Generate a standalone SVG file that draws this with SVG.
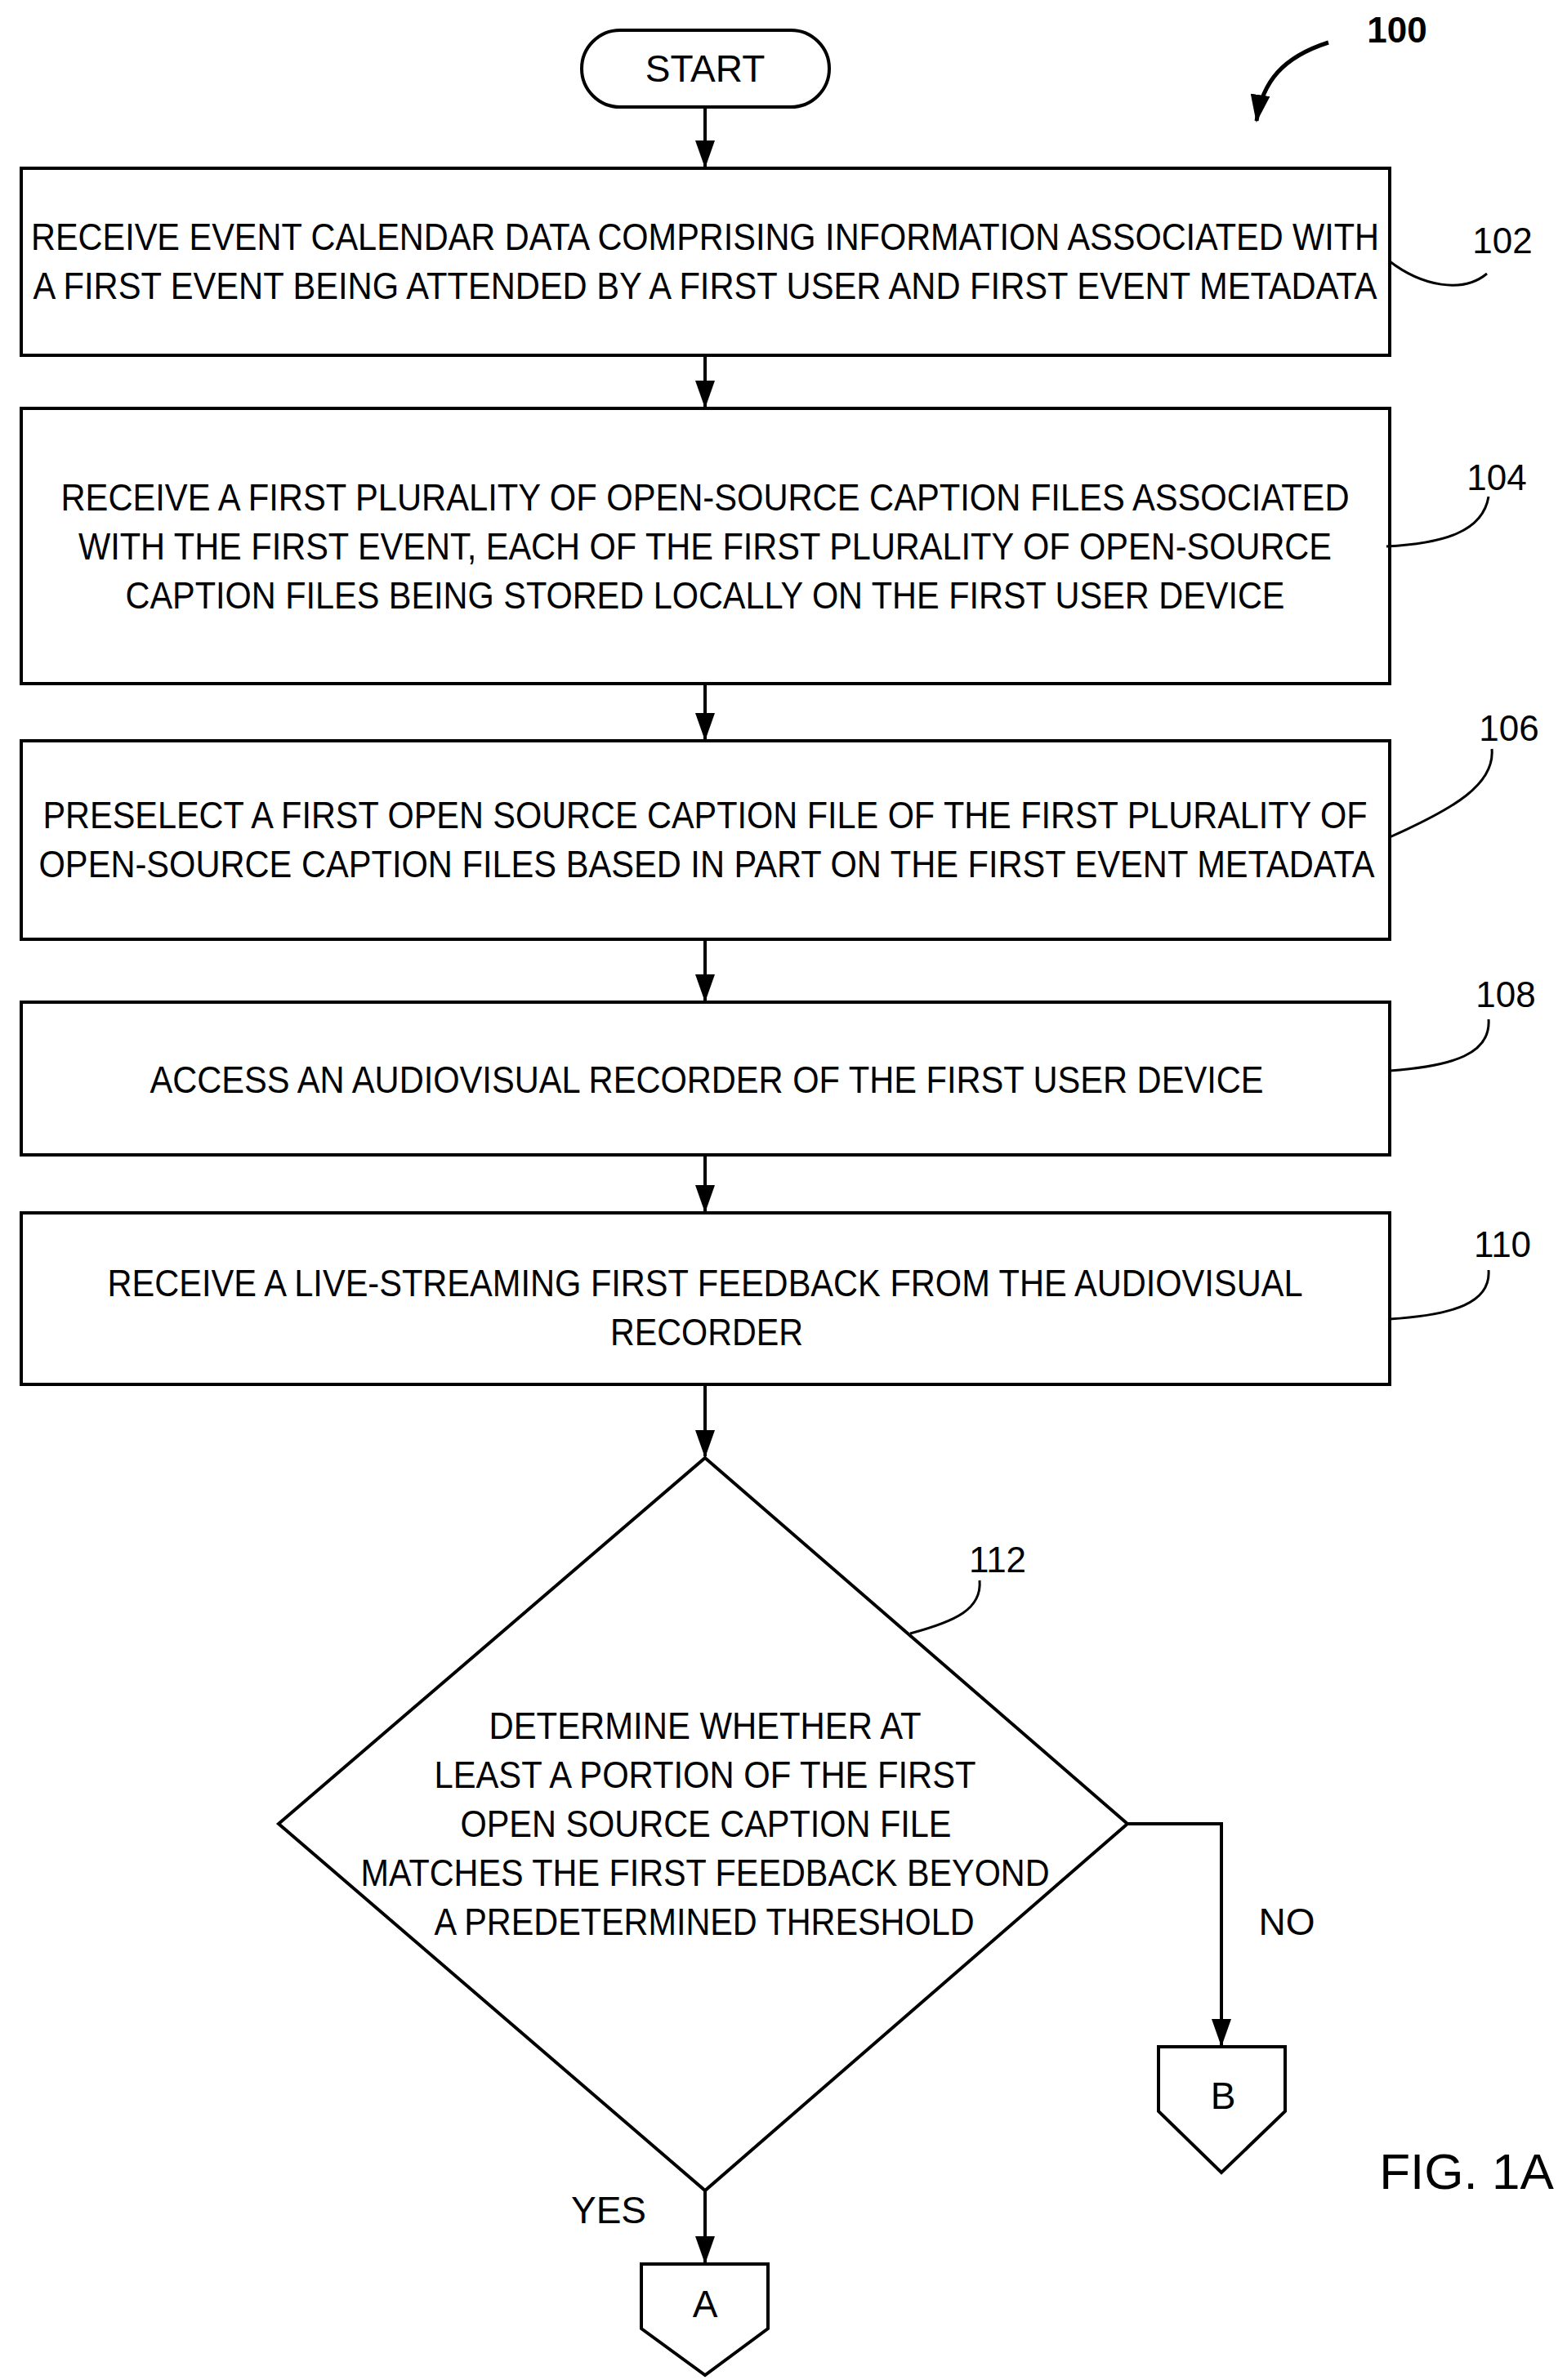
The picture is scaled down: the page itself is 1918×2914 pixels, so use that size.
<svg xmlns="http://www.w3.org/2000/svg" width="1918" height="2914" viewBox="0 0 1918 2914">
<defs>
<marker id="ah" markerWidth="34" markerHeight="24" refX="32" refY="12" orient="auto" markerUnits="userSpaceOnUse" viewBox="0 0 34 24"><path d="M0,0 L34,12 L0,24 Z" fill="#000"/></marker>
</defs>
<style>
.s{fill:#fff;stroke:#000;stroke-width:4}
.t{font-family:"Liberation Sans",Arial,sans-serif;font-size:46px;fill:#000;text-anchor:middle}
.r{font-family:"Liberation Sans",Arial,sans-serif;font-size:44px;fill:#000;text-anchor:middle}
.l{fill:none;stroke:#000;stroke-width:3}
.c{fill:none;stroke:#000;stroke-width:4}
</style>
<rect width="1918" height="2914" fill="#fff"/>
<g id="start"><rect class="s" x="712" y="37" width="303" height="94" rx="47"/><text class="t" x="863" y="100">START</text></g>
<g id="n102"><rect class="s" x="26" y="206" width="1675" height="229"/>
<text class="t" x="863" y="306" textLength="1650" lengthAdjust="spacingAndGlyphs">RECEIVE EVENT CALENDAR DATA COMPRISING INFORMATION ASSOCIATED WITH</text>
<text class="t" x="863" y="366" textLength="1645" lengthAdjust="spacingAndGlyphs">A FIRST EVENT BEING ATTENDED BY A FIRST USER AND FIRST EVENT METADATA</text></g>
<g id="n104"><rect class="s" x="26" y="500" width="1675" height="337"/>
<text class="t" x="863" y="625" textLength="1577" lengthAdjust="spacingAndGlyphs">RECEIVE A FIRST PLURALITY OF OPEN-SOURCE CAPTION FILES ASSOCIATED</text>
<text class="t" x="863" y="685" textLength="1534" lengthAdjust="spacingAndGlyphs">WITH THE FIRST EVENT, EACH OF THE FIRST PLURALITY OF OPEN-SOURCE</text>
<text class="t" x="863" y="745" textLength="1419" lengthAdjust="spacingAndGlyphs">CAPTION FILES BEING STORED LOCALLY ON THE FIRST USER DEVICE</text></g>
<g id="n106"><rect class="s" x="26" y="907" width="1675" height="243"/>
<text class="t" x="863" y="1014" textLength="1621" lengthAdjust="spacingAndGlyphs">PRESELECT A FIRST OPEN SOURCE CAPTION FILE OF THE FIRST PLURALITY OF</text>
<text class="t" x="865" y="1074" textLength="1635" lengthAdjust="spacingAndGlyphs">OPEN-SOURCE CAPTION FILES BASED IN PART ON THE FIRST EVENT METADATA</text></g>
<g id="n108"><rect class="s" x="26" y="1227" width="1675" height="187"/>
<text class="t" x="865" y="1338" textLength="1363" lengthAdjust="spacingAndGlyphs">ACCESS AN AUDIOVISUAL RECORDER OF THE FIRST USER DEVICE</text></g>
<g id="n110"><rect class="s" x="26" y="1485" width="1675" height="210"/>
<text class="t" x="863" y="1587" textLength="1463" lengthAdjust="spacingAndGlyphs">RECEIVE A LIVE-STREAMING FIRST FEEDBACK FROM THE AUDIOVISUAL</text>
<text class="t" x="865" y="1647" textLength="236" lengthAdjust="spacingAndGlyphs">RECORDER</text></g>
<g id="n112"><polygon class="s" points="863,1785 1380,2233 863,2682 341,2233"/>
<text class="t" x="863" y="2129" textLength="529" lengthAdjust="spacingAndGlyphs">DETERMINE WHETHER AT</text>
<text class="t" x="863" y="2189" textLength="663" lengthAdjust="spacingAndGlyphs">LEAST A PORTION OF THE FIRST</text>
<text class="t" x="864" y="2249" textLength="601" lengthAdjust="spacingAndGlyphs">OPEN SOURCE CAPTION FILE</text>
<text class="t" x="863" y="2309" textLength="843" lengthAdjust="spacingAndGlyphs">MATCHES THE FIRST FEEDBACK BEYOND</text>
<text class="t" x="862" y="2369" textLength="661" lengthAdjust="spacingAndGlyphs">A PREDETERMINED THRESHOLD</text></g>
<g id="nB"><polygon class="s" points="1418,2506 1573,2506 1573,2585 1495,2660 1418,2585"/><text class="t" x="1497" y="2582">B</text></g>
<g id="nA"><polygon class="s" points="785,2772 940,2772 940,2851 863,2908 785,2851"/><text class="t" x="863" y="2837">A</text></g>
<g id="connectors">
<path class="c" d="M863,131 V204" marker-end="url(#ah)"/>
<path class="c" d="M863,435 V498" marker-end="url(#ah)"/>
<path class="c" d="M863,837 V905" marker-end="url(#ah)"/>
<path class="c" d="M863,1150 V1225" marker-end="url(#ah)"/>
<path class="c" d="M863,1414 V1483" marker-end="url(#ah)"/>
<path class="c" d="M863,1695 V1783" marker-end="url(#ah)"/>
<path class="c" d="M1380,2233 H1495 V2504" marker-end="url(#ah)"/>
<path class="c" d="M863,2682 V2770" marker-end="url(#ah)"/>
<path class="l" d="M1701,320 C1740,350 1790,360 1820,335"/>
<path class="l" d="M1697,669 C1770,665 1815,650 1822,608"/>
<path class="l" d="M1701,1025 C1780,990 1830,960 1826,917"/>
<path class="l" d="M1701,1311 C1780,1305 1825,1290 1822,1248"/>
<path class="l" d="M1701,1615 C1780,1610 1825,1595 1822,1555"/>
<path class="l" d="M1114,2000 C1170,1985 1202,1970 1199,1935"/>
<path d="M1626,52 C1570,70 1545,100 1538,148" fill="none" stroke="#000" stroke-width="5" marker-end="url(#ah)"/>
</g>
<text class="r" x="1839" y="310">102</text>
<text class="r" x="1832" y="600">104</text>
<text class="r" x="1847" y="907">106</text>
<text class="r" x="1843" y="1233">108</text>
<text class="r" x="1839" y="1539">110</text>
<text class="r" x="1221" y="1925">112</text>
<text class="r" x="1710" y="52" font-weight="bold">100</text>
<text class="t" x="1575" y="2369">NO</text>
<text class="t" x="745" y="2722">YES</text>
<text class="t" x="1795" y="2680" style="font-size:62px">FIG. 1A</text>
</svg>
